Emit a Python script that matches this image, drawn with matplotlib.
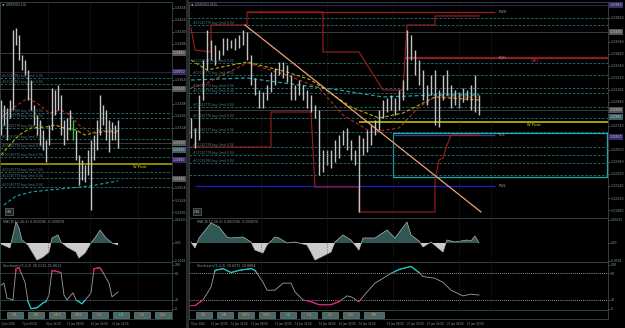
import numpy as np
import matplotlib.pyplot as plt
from matplotlib.patches import Rectangle
from matplotlib.transforms import blended_transform_factory

W, H = 625, 328
BG = '#000000'
FRAME = '#34494a'
GRID = '#3c3c3c'
TXT = '#8c9696'
TEAL = '#1f7a78'

# ---------------- left chart (H4) ----------------
l_hi = [1.3342, 1.3337, 1.3334, 1.3342, 1.3412, 1.3414, 1.3407, 1.3387, 1.3382, 1.3372,
        1.3362, 1.3337, 1.3327, 1.3322, 1.3312, 1.3302, 1.3317, 1.3354, 1.3352, 1.3357,
        1.3347, 1.3322, 1.3324, 1.3332, 1.3322, 1.3312, 1.3287, 1.3282, 1.3277, 1.3292,
        1.3302, 1.3307, 1.3322, 1.3347, 1.3337, 1.3332, 1.3322, 1.3320, 1.3317, 1.3322]
l_lo = [1.3307, 1.3317, 1.3302, 1.3324, 1.3332, 1.3397, 1.3382, 1.3372, 1.3367, 1.3342,
        1.3332, 1.3317, 1.3307, 1.3297, 1.3292, 1.3280, 1.3297, 1.3312, 1.3327, 1.3332,
        1.3307, 1.3297, 1.3302, 1.3312, 1.3302, 1.3282, 1.3257, 1.3262, 1.3260, 1.3267,
        1.3232, 1.3282, 1.3292, 1.3307, 1.3317, 1.3302, 1.3290, 1.3302, 1.3302, 1.3294]
l_green_bar = 24

l_ma_red_x = [0, 3, 9, 13, 16, 20, 23, 26, 30, 33, 36, 39]
l_ma_red = [1.3324, 1.3332, 1.3344, 1.3337, 1.3329, 1.3332, 1.3327, 1.3317, 1.3309, 1.3312, 1.3310, 1.3309]
l_ma_yel_x = [0, 3, 6, 10, 15, 18, 21, 25, 28, 31, 36, 39]
l_ma_yel = [1.3287, 1.3297, 1.3307, 1.3314, 1.3315, 1.3317, 1.3314, 1.3312, 1.3307, 1.3309, 1.3311, 1.3311]
l_ma_teal_x = [1, 5, 10, 16, 23, 30, 35, 39]
l_ma_teal = [1.3237, 1.3246, 1.3250, 1.3252, 1.3254, 1.3256, 1.3259, 1.3261]

l_orders = [1.3364, 1.3358, 1.3329, 1.3324, 1.3314, 1.3303, 1.3294, 1.3285, 1.3270, 1.3264, 1.3255]
l_order_txt = ['#00025782 buy_limit 0.04', '#00025781 buy_limit 0.04', '#00025780 buy_limit 0.04',
               '#00025779 buy_limit 0.04', '#00025778 buy_limit 0.04', '#00025777 buy_limit 0.04',
               '#00025776 buy_limit 0.04', '#00025775 buy_limit 0.04', '#00025774 buy_limit 0.04',
               '#00025773 buy_limit 0.04', '#00025772 buy_limit 0.04']
l_gray = [1.3389, 1.3353, 1.3299]
l_purple = [1.3370]
pivot = 1.3278
l_boxes = [(1.3389, '#555555'), (1.3370, '#3a2a6a'), (1.3353, '#555555'), (1.3299, '#555555'),
           (1.3292, '#3e5e66'), (1.3282, '#3a2a6a'), (1.3263, '#555555')]

l_macd_x = [0, 3, 4, 5, 6, 7, 9, 11, 12, 14, 16, 17, 19, 20, 22, 25, 26, 28, 30, 32, 33, 35, 37, 39]
l_macd = [-0.0001, -0.0005, 0.0008, 0.0021, 0.0015, 0.0003, -0.0002, -0.0012, -0.0017, -0.0014,
          -0.0009, 0.0005, 0.0008, 0.0001, -0.0004, -0.0009, -0.0015, -0.0010, 0.0, 0.0008,
          0.0013, 0.0005, 0.0, -0.0002]

l_sto_x = [0, 1, 2, 4, 5, 6, 8, 9, 10, 12, 14, 15, 16, 17, 19, 20, 21, 22, 24, 25, 27, 29,
           30, 31, 33, 34, 36, 37, 39]
l_sto = [53, 58, 24, 20, 91, 93, 60, 16, 0, 2, 13, 16, 31, 87, 84, 82, 31, 20, 36, 20, 11, 27,
         36, 91, 93, 82, 58, 27, 38]

l_time_x = [0, 7, 15, 22, 30, 37]
l_time = ['2 Jan 2026', '7 Jan 08:00', '9 Jan 16:00', '14 Jan 08:00', '16 Jan 16:00', '21 Jan 16:00']
l_buttons = ['M1', 'M5', 'M15', 'M30', 'H1', 'H4', 'D1', 'W1']

# ---------------- right chart ----------------
r_hi = [1.3282, 1.3272, 1.3305, 1.3340, 1.3370, 1.3360, 1.3355, 1.3350, 1.3362, 1.3362,
        1.3360, 1.3362, 1.3365, 1.3370, 1.3368, 1.3345, 1.3322, 1.3310, 1.3308, 1.3315,
        1.3328, 1.3332, 1.3338, 1.3338, 1.3335, 1.3325, 1.3315, 1.3320, 1.3315, 1.3310,
        1.3305, 1.3295, 1.3290, 1.3250, 1.3250, 1.3250, 1.3260, 1.3265, 1.3270, 1.3272,
        1.3260, 1.3250, 1.3265, 1.3262, 1.3270, 1.3275, 1.3280, 1.3290, 1.3300, 1.3302,
        1.3305, 1.3302, 1.3310, 1.3320, 1.3370, 1.3365, 1.3350, 1.3340, 1.3330, 1.3315,
        1.3325, 1.3330, 1.3310, 1.3325, 1.3330, 1.3315, 1.3310, 1.3308, 1.3312, 1.3310,
        1.3315, 1.3325, 1.3305]
r_lo = [1.3262, 1.3252, 1.3260, 1.3300, 1.3330, 1.3340, 1.3335, 1.3340, 1.3345, 1.3350,
        1.3352, 1.3350, 1.3352, 1.3355, 1.3340, 1.3315, 1.3305, 1.3292, 1.3292, 1.3300,
        1.3308, 1.3315, 1.3325, 1.3322, 1.3318, 1.3300, 1.3300, 1.3305, 1.3300, 1.3292,
        1.3288, 1.3282, 1.3225, 1.3228, 1.3235, 1.3232, 1.3238, 1.3242, 1.3255, 1.3250,
        1.3240, 1.3235, 1.3188, 1.3245, 1.3248, 1.3255, 1.3265, 1.3270, 1.3282, 1.3288,
        1.3290, 1.3285, 1.3290, 1.3300, 1.3310, 1.3340, 1.3325, 1.3315, 1.3300, 1.3295,
        1.3305, 1.3275, 1.3273, 1.3300, 1.3305, 1.3292, 1.3295, 1.3292, 1.3298, 1.3300,
        1.3290, 1.3288, 1.3285]

r_ma_teal_x = [0, 14, 27, 37, 48, 61, 72]
r_ma_teal = [1.3320, 1.3322, 1.3315, 1.3310, 1.3303, 1.3305, 1.3305]
r_ma_yel_x = [0, 4, 14, 24, 30, 40, 47, 53, 61, 72]
r_ma_yel = [1.3340, 1.3330, 1.3338, 1.3328, 1.3320, 1.3293, 1.3282, 1.3287, 1.3303, 1.3300]
r_ma_red_x = [0, 4, 14, 24, 32, 38, 45, 52, 57, 61, 72]
r_ma_red = [1.3312, 1.3317, 1.3337, 1.3325, 1.3312, 1.3285, 1.3268, 1.3272, 1.3293, 1.3303, 1.3303]

r_up_x = [0, 1, 5, 5, 14, 14, 33, 33, 42, 48, 53, 54, 61, 61, 72]
r_up = [1.3372, 1.3350, 1.3348, 1.3375, 1.3375, 1.3388, 1.3388, 1.3348, 1.3348, 1.3310,
        1.3310, 1.3375, 1.3375, 1.3384, 1.3384]
r_dn_x = [0, 20, 20, 30, 31, 42, 42, 61, 61, 62, 63, 64, 65, 72]
r_dn = [1.3253, 1.3253, 1.3288, 1.3288, 1.3213, 1.3213, 1.3188, 1.3188, 1.3220, 1.3240,
        1.3242, 1.3255, 1.3265, 1.3265]

r_trend_x = [13.5, 72.5]
r_trend = [1.3375, 1.3188]

r_orders = [1.3382, 1.3375, 1.3337, 1.3325, 1.3312, 1.3307, 1.3293, 1.3282, 1.3268,
            1.3253, 1.3245, 1.3237, 1.3225]
r_gray = [1.3368, 1.3290]
pwh, pdh, pdl, pwl = 1.3388, 1.3342, 1.3265, 1.3214
zone_lo, zone_hi = 1.3223, 1.3267
r_boxes = [(1.3395, '#3a2a6a'), (1.3368, '#555555'), (1.3290, '#555555'),
           (1.3283, '#3e5e66'), (1.3263, '#3a2a6a')]

r_macd_x = [0, 1, 2, 4, 5, 7, 9, 10, 13, 15, 16, 18, 19, 21, 22, 24, 26, 29, 30, 31, 35, 36,
            38, 40, 42, 43, 46, 49, 51, 54, 55, 57, 58, 60, 63, 64, 66, 69, 70, 71, 72]
r_macd = [0.0001, -0.0005, 0.0005, 0.0015, 0.0020, 0.0016, 0.0006, 0.0005, 0.0006, 0.0001,
          -0.0007, -0.0010, -0.0002, 0.0006, 0.0005, 0.0, 0.0001, -0.0002, -0.0009, -0.0017,
          -0.0009, 0.0001, 0.0008, 0.0003, -0.0007, 0.0005, 0.0005, 0.0013, 0.0005, 0.0021,
          0.0008, 0.0002, -0.0004, 0.0001, -0.0009, 0.0003, 0.0001, 0.0003, 0.0002, 0.0007, 0.0]

r_sto_x = [0, 1, 3, 5, 6, 8, 10, 12, 15, 16, 18, 19, 21, 23, 25, 26, 28, 30, 32, 35, 37, 39,
           40, 42, 44, 46, 50, 52, 55, 57, 58, 61, 63, 65, 68, 70, 72]
r_sto = [7, 7, 20, 49, 87, 91, 82, 87, 91, 87, 60, 42, 42, 58, 58, 38, 20, 16, 9, 9, 16, 29,
         27, 16, 38, 58, 80, 89, 96, 82, 73, 69, 60, 42, 29, 33, 31]

r_time_x = [0, 5, 10, 15, 21, 26, 32, 37, 42, 49, 54, 59, 64, 69]
r_time = ['9 Jan 2026', '12 Jan 00:00', '12 Jan 16:00', '13 Jan 08:00', '14 Jan 00:00',
          '14 Jan 16:00', '15 Jan 08:00', '16 Jan 00:00', '16 Jan 16:00', '19 Jan 08:00',
          '20 Jan 00:00', '20 Jan 16:00', '21 Jan 08:00', '22 Jan 00:00']
r_buttons = ['M1', 'M5', 'M15', 'M30', 'H1', 'H4', 'D1', 'W1', 'MN']

fig = plt.figure(figsize=(W / 100, H / 100), dpi=100, facecolor=BG)


def pax(x0, y0, x1, y1):
    ax = fig.add_axes([x0 / W, 1 - y1 / H, (x1 - x0) / W, (y1 - y0) / H])
    ax.set_facecolor(BG)
    for s in ax.spines.values():
        s.set_color(FRAME)
        s.set_linewidth(0.6)
    ax.tick_params(colors=TXT, labelsize=2.3, length=1.2, width=0.4, pad=0.8)
    return ax


def price_scale(ax, start, stop, step, boxes):
    # tick labels, skipping the ones hidden under a highlighted box
    ticks = [t for t in np.arange(start, stop, step)
             if all(abs(t - p) > 0.00055 for p, _ in boxes)]
    ax.yaxis.tick_right()
    ax.set_yticks(ticks)
    ax.yaxis.set_major_formatter(plt.FormatStrFormatter('%.5f'))
    tr = blended_transform_factory(ax.transAxes, ax.transData)
    for p, fc in boxes:
        ax.text(1.004, p, f'{p:.5f}', transform=tr, fontsize=2.2, color='#d0d0d0',
                va='center', ha='left', bbox=dict(facecolor=fc, edgecolor='none', pad=0.5))


def macd_pane(ax, x, m, xlim, label):
    m = np.array(m)
    ax.set_xlim(*xlim)
    ax.set_ylim(-0.0019, 0.0025)
    ax.fill_between(x, m, 0, where=m >= 0, interpolate=True, color='#2f5855', lw=0)
    ax.fill_between(x, m, 0, where=m <= 0, interpolate=True, color='#cccccc', lw=0)
    ax.plot(x, m, color='#b4b4b4', lw=0.5)
    ax.yaxis.tick_right()
    ax.set_yticks([0.00235, 0.0, -0.0018])
    ax.set_yticklabels(['0.00235', '0.00', '-0.0018'])
    ax.tick_params(axis='y', labelsize=2.1)
    ax.set_xticks([])
    ax.text(0.02, 0.95, label, transform=ax.transAxes, fontsize=2.4, color=TXT, va='top')


def sto_pane(ax, x, k, xlim, hi_col, lo_col, label, times_x, times, dotted):
    ax.set_xlim(*xlim)
    ax.set_ylim(-3, 106)
    ls = (0, (1, 1.5)) if dotted else '-'
    lc = '#c8c8c8' if dotted else '#2c4848'
    ax.axhline(80, color=lc, lw=0.6, ls=ls)
    ax.axhline(20, color=lc, lw=0.6, ls=ls)
    ax.plot(x, k, color='#a0a0a0', lw=0.6)
    top, = ax.plot(x, k, color=hi_col, lw=0.9)
    top.set_clip_path(Rectangle((-10, 80), 1000, 100, transform=ax.transData))
    bot, = ax.plot(x, k, color=lo_col, lw=0.9)
    bot.set_clip_path(Rectangle((-10, -50), 1000, 70, transform=ax.transData))
    ax.yaxis.tick_right()
    ax.set_yticks([100, 80, 20, 0])
    ax.set_xticks(times_x)
    ax.set_xticklabels(times, ha='left', fontsize=1.9)
    ax.tick_params(axis='x', length=0, pad=9)
    ax.text(0.02, 0.96, label, transform=ax.transAxes, fontsize=2.4, color=TXT, va='top')


def buttons(x0, x1, names, active, step):
    ax = pax(x0, 310, x1, 319)
    ax.set_xlim(0, x1 - x0)
    ax.set_ylim(9, 0)
    ax.set_xticks([])
    ax.set_yticks([])
    for i, name in enumerate(names):
        bx = 7 + step * i
        w = 20 if name == 'MN' else 16
        ax.add_patch(Rectangle((bx, 2), w, 6, facecolor='#4a6666', edgecolor='#7a9696', lw=0.4))
        ax.text(bx + w / 2, 5, name, fontsize=2.8, ha='center', va='center',
                color='#2fd0d0' if name == active else '#e08a3a')


def vgrid(axes, xs):
    for ax in axes:
        for x in xs:
            ax.axvline(x, color=GRID, lw=0.5, ls=(0, (1, 2)))


# ======== left chart ========
l_xlim = (-0.33, 57)
lax = pax(0, 2, 172, 218)
lax.set_xlim(*l_xlim)
lax.set_ylim(1.3224, 1.3440)
lax.hlines(l_orders, *l_xlim, colors=TEAL, linestyles=(0, (3, 2)), lw=0.6)
for p, t in zip(l_orders, l_order_txt):
    lax.text(0.5, p + 0.00003, t, fontsize=2.2, color='#5f8282', va='bottom')
lax.hlines(l_gray, *l_xlim, colors='#3c3c3c', lw=0.7)
lax.hlines(l_purple, *l_xlim, colors='#2a1e4a', lw=0.8)
lax.axhline(pivot, color='#b0b000', lw=1.1)
lax.text(44, pivot - 0.0001, 'W Pivot', fontsize=2.6, color='#e0e000', va='top')
lax.plot(l_ma_teal_x, l_ma_teal, color='#1aa6a6', lw=0.8, ls=(0, (3, 2)))
lax.plot(l_ma_yel_x, l_ma_yel, color='#b8b400', lw=0.8, ls=(0, (3, 2)))
lax.plot(l_ma_red_x, l_ma_red, color='#b03020', lw=0.8, ls=(0, (3, 2)))
lcols = ['#2fc02f' if i == l_green_bar else '#c4c4c4' for i in range(len(l_hi))]
lax.vlines(range(len(l_hi)), l_lo, l_hi, colors=lcols, lw=1.0)
price_scale(lax, 1.3230, 1.3440, 0.0012, l_boxes)
lax.set_xticks([])
lax.text(0.01, 0.995, '\u25bc GBPUSD,H4', transform=lax.transAxes, fontsize=2.4, color=TXT, va='top')
lax.text(0.035, 0.025, 'ON', transform=lax.transAxes, fontsize=2.8, color='#c8c8c8',
         bbox=dict(facecolor='#1c2424', edgecolor='#7a8484', lw=0.4, pad=1))

lmacd = pax(0, 218, 172, 262)
macd_pane(lmacd, l_macd_x, l_macd, l_xlim, 'MACD(12,26,9) 0.000096 -0.000076')
lsto = pax(0, 262, 172, 310)
sto_pane(lsto, l_sto_x, l_sto, l_xlim, '#e0197d', '#19c8c8',
         'Stochastic(5,3,3) 38.5215 35.8612', l_time_x, l_time, False)
vgrid([lax, lmacd, lsto], [15.7, 29.7, 45.7])
buttons(0, 172, l_buttons, 'H4', 21.2)

# ======== right chart ========
r_xlim = (-0.5, 104.25)
rax = pax(189, 2, 608, 218)
rax.set_xlim(*r_xlim)
rax.set_ylim(1.3182, 1.3398)
rax.hlines(r_orders, *r_xlim, colors=TEAL, linestyles=(0, (3, 2)), lw=0.6)
for i, p in enumerate(r_orders[1:12]):
    rax.text(0.4, p + 0.00003, f'#000257{70 + i} buy_limit 0.04', fontsize=2.2,
             color='#5f8282', va='bottom')
rax.hlines(r_gray, *r_xlim, colors='#3c3c3c', lw=0.7)
rax.axhline(1.3395, color='#2a1e4a', lw=0.8)
rax.hlines(pwh, 14, 76, colors='#a01e1e', lw=0.9)
rax.hlines(pdh, 53.5, r_xlim[1], colors='#8c1e28', lw=1.6)
rax.hlines(pwl, 1, 76, colors='#1e1eb4', lw=1.0)
rax.hlines(pdl, 50.5, 76, colors='#3c3c96', lw=0.9)
rax.hlines(pivot, 42, r_xlim[1], colors='#b0b000', lw=1.3)
for p, t in [(pwh, 'PWH'), (pdh, 'PDH'), (pdl, 'PDL'), (pwl, 'PWL')]:
    rax.text(77, p, t, fontsize=2.6, color='#a0a0a0', va='center')
rax.text(85, pdh - 0.0001, 'WR1', fontsize=2.6, color='#d0203c', va='top')
rax.text(84, pivot - 0.0001, 'W Pivot', fontsize=2.6, color='#e0e000', va='top')
rax.add_patch(Rectangle((50.5, zone_lo), 53.5, zone_hi - zone_lo, facecolor='none',
                        edgecolor='#1ab0b0', lw=0.9))
rax.plot(r_up_x, r_up, color='#a01e1e', lw=0.8)
rax.plot(r_dn_x, r_dn, color='#a01e1e', lw=0.8)
rax.plot(r_ma_teal_x, r_ma_teal, color='#1aa6a6', lw=0.9, ls=(0, (3, 2)))
rax.plot(r_ma_yel_x, r_ma_yel, color='#b8b400', lw=0.8, ls=(0, (3, 2)))
rax.plot(r_ma_red_x, r_ma_red, color='#b03020', lw=0.8, ls=(0, (3, 2)))
rax.plot(r_trend_x, r_trend, color='#f0a078', lw=0.9)
rax.vlines(range(len(r_hi)), r_lo, r_hi, colors='#c4c4c4', lw=1.0)
price_scale(rax, 1.3190, 1.3398, 0.0012, r_boxes)
rax.set_xticks([])
rax.text(0.005, 0.995, '\u25bc GBPUSD,M15', transform=rax.transAxes, fontsize=2.4, color=TXT, va='top')
rax.text(0.012, 0.025, 'ON', transform=rax.transAxes, fontsize=2.8, color='#c8c8c8',
         bbox=dict(facecolor='#1c2424', edgecolor='#7a8484', lw=0.4, pad=1))

rmacd = pax(189, 218, 608, 262)
macd_pane(rmacd, r_macd_x, r_macd, r_xlim, 'MACD(12,26,9) 0.000096 -0.000076')
rsto = pax(189, 262, 608, 310)
sto_pane(rsto, r_sto_x, r_sto, r_xlim, '#19c8c8', '#e0197d',
         'Stochastic(5,3,3) 30.6075 29.8884', r_time_x, r_time, True)
vgrid([rax, rmacd, rsto], [17.5, 34, 50.5, 67, 75])
buttons(189, 608, r_buttons, 'H1', 21)

# divider between the two chart windows
fig.patches.append(Rectangle((186 / W, 0), 3 / W, 1, transform=fig.transFigure,
                             facecolor='#2a2a2a', edgecolor='none'))

fig.savefig('out.png', dpi=100, facecolor=BG)
